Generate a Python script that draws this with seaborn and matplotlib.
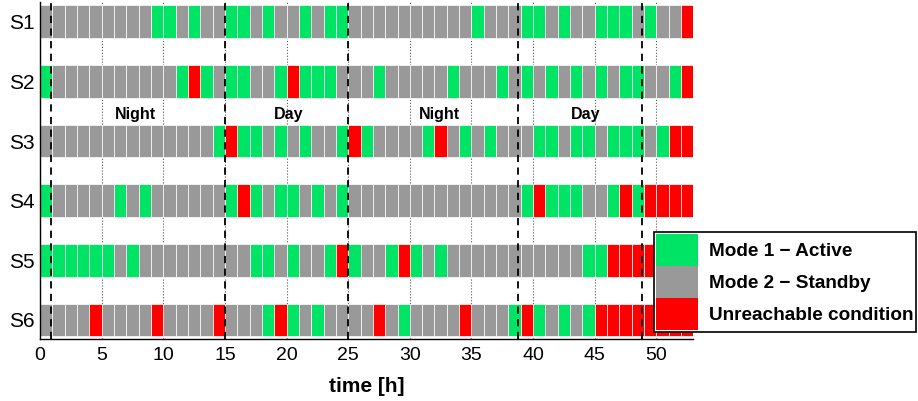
import numpy as np
import pandas as pd
import matplotlib
matplotlib.use("Agg")
import matplotlib.pyplot as plt
import seaborn as sns
from matplotlib.patches import Patch

########################################################################################################################################

sensors = ["S1", "S2", "S3", "S4", "S5", "S6"]

# hourly state of each sensor, one char per hour: 1 = active, 2 = standby, 3 = unreachable
s1 = "222222222" "11" "2" "1" "22" "11" "2" "1" "22" "1" "2" "11" "2222222222" "1" "222" "11" "2" "1" "22" "111" "2" "1" "22" "3"
s2 = "1" "2222222222" "1" "3" "1" "2" "11" "22" "1" "3" "111" "222" "1" "22222" "1" "222" "1" "2" "1" "2" "1" "2" "1" "2" "1" "2" "11" "22" "1" "3"
s3 = "22222222222222" "1" "3" "11" "2" "1" "2" "1" "22" "1" "3" "1" "2222" "1" "3" "2" "1" "2" "1" "222" "11" "2" "11" "2" "111" "2" "1" "33"
s4 = "1" "22222" "1" "2" "1" "222222" "1" "3" "1" "2" "11" "2" "1" "2" "1" "22222222222222" "1" "3" "111" "22" "1" "3" "1" "3333"
s5 = "111111" "2" "1" "222222222" "11" "2" "1" "22" "1" "3" "1" "22" "1" "3" "1" "2" "1" "22222222222" "11" "3333333"
s6 = "2222" "3" "2222" "3" "2222" "3" "222" "1" "3" "1" "2" "1" "2222" "3" "2" "1" "2222" "3" "222" "1" "3" "1" "2" "1" "2" "1" "33333333"

mode_labels = {1: "Mode 1 \u2212 Active", 2: "Mode 2 \u2212 Standby", 3: "Unreachable condition"}
mode_colors = {1: "#00E466", 2: "#999999", 3: "#FF0000"}

# day / night boundaries [h] and period labels
switch_times = [0.9, 15, 25, 38.8, 48.8]
period_labels = ["Night", "Day", "Night", "Day"]
period_pos = [7.7, 20.2, 32.4, 44.3]

########################################################################################################################################

rows = []
for name, states in zip(sensors, [s1, s2, s3, s4, s5, s6]):
    for hour, st in enumerate(states):
        rows.append({"sensor": name, "hour": hour, "state": int(st)})
df = pd.DataFrame(rows)

sns.set_style("white")
plt.rcParams["font.family"] = ["Liberation Sans", "DejaVu Sans"]
plt.rcParams["text.color"] = "black"
plt.rcParams["axes.labelcolor"] = "black"
plt.rcParams["xtick.color"] = "black"
plt.rcParams["ytick.color"] = "black"

fig = plt.figure(figsize=(9.18, 4.01), dpi=100)
ax = fig.add_axes([0.0436, 0.1546, 0.7117, 0.840])

for i, name in enumerate(sensors):
    sub = df[df["sensor"] == name]
    for st, color in mode_colors.items():
        cells = sub[sub["state"] == st]
        ax.barh(np.full(len(cells), i), np.ones(len(cells)), left=cells["hour"], height=0.55,
                color=color, edgecolor="white", linewidth=0.5, zorder=2)

for t in switch_times:
    ax.axvline(t, color="black", linestyle=(0, (4, 3)), linewidth=1.3, zorder=4)

for label, x in zip(period_labels, period_pos):
    ax.text(x, 1.55, label, ha="center", va="center", fontsize=11.5, fontweight="bold", color="black")

ax.set_xlim(0, 53)
ax.set_ylim(5.32, -0.33)
ax.set_xticks(np.arange(0, 51, 5))
ax.set_yticks(range(len(sensors)))
ax.set_yticklabels(sensors)
ax.xaxis.grid(True, linestyle=":", color="0.35", linewidth=0.8)
ax.yaxis.grid(False)
ax.set_axisbelow(True)

ax.tick_params(axis="y", labelsize=15, length=0, pad=4, labelcolor="black")
ax.tick_params(axis="x", labelsize=14, length=0, pad=6, labelcolor="black")
ax.set_xlabel("time [h]", fontsize=15, fontweight="bold", labelpad=9, color="black")

sns.despine(ax=ax, top=True, right=True)
ax.spines["left"].set_color("black")
ax.spines["bottom"].set_color("black")
ax.spines["left"].set_linewidth(1)
ax.spines["bottom"].set_linewidth(1)

legend_patches = [Patch(facecolor=c, edgecolor="none") for c in mode_colors.values()]
leg = ax.legend(legend_patches, mode_labels.values(), loc="upper left",
                bbox_to_anchor=(0.7124, 0.4214), bbox_transform=fig.transFigure,
                borderaxespad=0, borderpad=0.1, labelspacing=0, handleheight=2.21,
                handlelength=2.19, handletextpad=0.62, fancybox=False, framealpha=1,
                edgecolor="black", prop={"weight": "bold", "size": 13.7})
leg.get_frame().set_linewidth(1.2)
leg.set_zorder(10)
for txt in leg.get_texts():
    txt.set_color("black")

fig.savefig("out.png", dpi=100)
